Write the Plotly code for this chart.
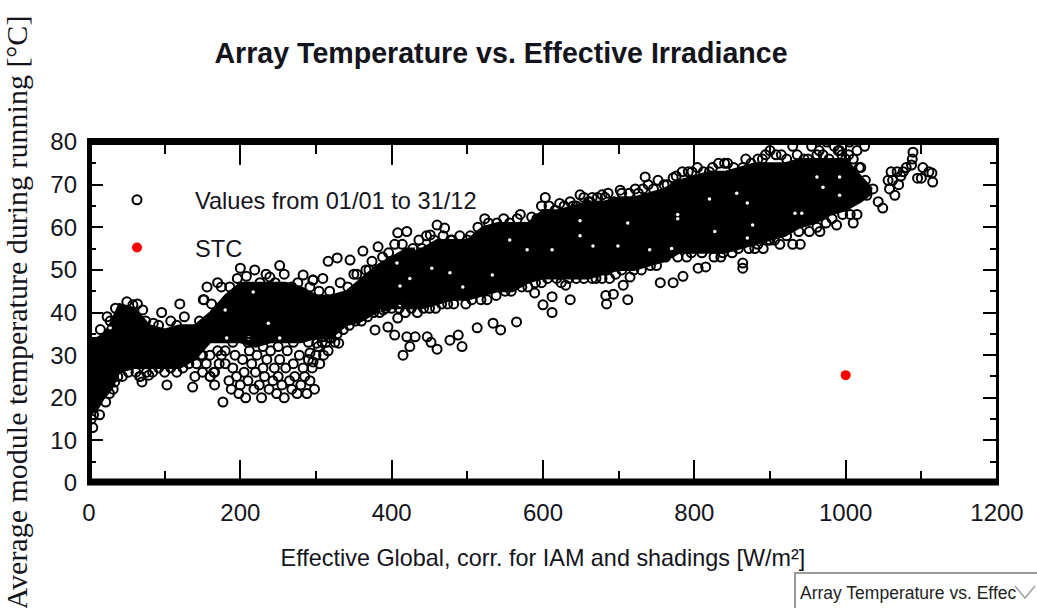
import plotly.graph_objects as go

TITLE = "Array Temperature vs. Effective Irradiance"
X_TITLE = "Effective Global, corr. for IAM and shadings [W/m²]"
Y_TITLE = "Average module temperature during running [°C]"
SERIES_VALUES = "Values from 01/01 to 31/12"
SERIES_STC = "STC"
DROPDOWN = "Array Temperature vs. Effec"

# Solid core of the overplotted cloud: envelope
core_x = [0,10,20,30,40,60,80,100,120,140,160,180,200,220,240,260,280,300,320,340,360,380,400,420,440,460,480,500,520,540,560,580,600,620,640,660,680,700,720,740,760,780,800,820,840,860,880,900,920,940,960,980,1000,1020,1035]
core_hi = [34,34,35,38,42,41,37,36,37,37,40,44,47,47,47,47,46,44,44,45,48,51,53,55,55,57,57,57,60,61,61,61,64,64,65,66,66,67,67,68,69,71,72,73,73,74,75,75,75,76,76,76,76,72,69]
core_lo = [16,17,20,22,26,27,27,27,27,29,33,33,33,32,33,33,33,34,34,37,38,40,41,41,41,42,43,43,44,45,45,47,48,48,48,48,49,50,50,51,52,54,54,54,54,55,56,57,58,60,61,63,64,66,68]

# Individually visible points around the core
pts_x = [5,3,8,12,19,34,24,67,70,79,103,137,133,160,166,166,58,71,96,120,156,170,151,200,219,252,283,296,239,
 175,180,177,185,188,190,193,195,198,200,203,205,207,210,212,215,218,220,222,225,228,230,232,235,238,240,243,245,248,250,252,255,258,260,262,265,268,270,272,275,278,280,283,285,288,290,292,295,298,300,303,305,310,313,316,320,325,180,190,210,230,250,270,290,
 140,150,160,165,172,155,148,130,140,160,170,
 316,328,309,296,345,362,382,408,420,460,470,451,500,523,539,570,585,
 296,292,330,301,309,378,395,404,415,424,420,431,447,460,452,477,493,488,513,534,544,565,408,389,
 612,600,612,589,630,636,683,693,684,712,706,755,772,785,805,815,864,626,649,665,688,715,
 603,622,649,665,678,686,702,722,735,739,772,797,844,864,
 864,891,913,930,940,966,988,1010,1015,1049,1043,1036,1028,
 1065,1058,1062,1070,1073,1056,1060,1068,1076,1087,1089,1088,1080,1100,1102,1114,1115,1095,1110,
 900,915,930,945,955,965,975,985,995,1005,1015,1025,950,970,990,1010,890,875,1020,1000,
 350,370,440,480,545,610,640,660,760,820,880,905,880,900,835,790]
pts_y = [13,15,20,24,23.7,23.7,39,25,23.7,25.3,23,22.5,29.6,25,26,23,41.8,40.6,40,42,46,47,43,50.4,50,51,48.8,47.6,48.3,
 30,28,19,24,22,27,30,25,21,23,29,26,20,24,31,28,22,26,30,23,20,27,25,29,22,31,24,27,21,25,29,23,20,27,31,24,22,28,25,21,30,23,27,25,21,29,24,27,22,30,32,28,30,33,31,34,33,31,33,33,32,32,33,33,
 25,26,25,26,28,28,30,31,31,30,31,
 52,52.8,48,47.6,52.3,54.4,55.4,58.7,59,60.5,59.8,58.2,57,62,61,63,62.4,
 28.4,30.5,32.8,32.8,34.3,35.9,36.6,34.7,30,32,34.3,34.3,34.3,31.4,33,33.5,32,34.7,36.4,37.5,35.9,37.8,38.7,40.6,
 40,41.8,43.7,44.6,46.4,43,44,44.3,42,43,46.4,47,47,48.5,50.4,50.7,51.6,50,50,48,48,48.3,
 67,65.6,67.6,67,67.6,68,68.7,69,71.8,70,71.6,73,75,74,
 50.4,55,56,56,56,59,60.5,61,63,64.5,66,69,67.5,
 67.5,69,71,70,72,71,73,73,73,74.6,77.6,76,74,71.5,74,72.7,70.6,71.5,73,
 78,77,79,76,79,78,80,79,77,80,78,79,76,77,78,76,76,75,74,76,
 49,50,55,57,60,62,65,66,70,73,57,59,55,57,53,53]

# Points along the upper rim of the cloud
rim_hi_x = [15,28,35,50,64,75,85,92,108,116,126,146,152,162,175,186,196,208,226,234,246,258,268,276,292,304,318,332,342,354,366,374,388,396,404,414,428,436,446,456,468,478,490,504,514,528,534,548,556,566,576,592,598,608,616,628,636,644,654,662,672,682,694,704,714,726,732,746,752,764,776,784,792,804,812,824,832,840,852,868,884,894,908,922,936,962,978,992,1004,1018,1026]
rim_hi_y = [36,38,41,42.5,42,38,37.5,37,38,37,39,38,43,42,46,46,48,48.5,47,49,47,49,46,47,46,45,45,47,46,49,50,52,53,54,56,56,55,57,58,57,58,57,58,58,60,61,59,62,61,62,60,62,65,65,64,65,66,65,67,66,67,67,66,68,68,68,69,69,71,70,72,73,73,74,73,74,75,75,74,76,76,77,77,76,77,77,76,78,77,74,71]

# Points along the lower rim of the cloud
rim_lo_x = [6,14,22,27,32,38,44,52,62,68,76,84,92,100,108,116,124,132,142,150,308,318,328,336,344,352,360,368,376,384,392,400,410,418,426,434,442,450,458,466,474,482,498,506,518,526,538,550,558,572,580,590,598,606,618,624,634,644,654,670,678,696,704,720,730,742,750,762,778,796,810,826,838,850,858,872,884,898,906,922,938,952,962,974,982,996,1006]
rim_lo_y = [16,16,19,21,22,25,25,26,26,25,26,26,27,26,27,26,27,28,28,30,33,34,35,36,37,38,38,39,40,40,41,41,41,40,41,40,41,41,41,42,42,42,42,43,43,43,44,45,45,46,46,47,47,48,48,47,48,48,48,48,48,49,50,50,50,51,51,53,53,54,54,53,54,54,55,55,56,57,57,58,59,59,60,61,62,63,63]

# Small openings left inside the solid core
gap_x = [649,649,712,820,778,778,612,666,699,741,770,827,870,856,877,870,992,992,962,970,933,942,453,411,424,407,477,533,579,556,433,387,411,494,556,237,211,252,182,217,180,133,28]
gap_y = [61.5,58,61,66.6,63,62,54.7,55.6,55.6,54.7,55,59,65.7,68,60.5,57.5,71.8,67.5,71.8,69.4,63.3,63.3,50.4,46.2,48,51.6,49.3,48.8,54.7,57,55,40.6,41.8,46,43,37.5,34,34,34,44.8,40.6,38,36.4]

stc_x = [1000]
stc_y = [25.3]

W, H = 1037, 608
L, R, T, B = 89, 40, 142, 125
PW, PH = W - L - R, H - T - B
def px(v): return (v - L) / PW
def py(v): return (T + PH - v) / PH

SANS = "Liberation Sans, Arial, sans-serif"
INK = "#14141c"
ring = dict(symbol="circle-open", color="black", size=9, line=dict(width=2, color="black"))

fig = go.Figure()
fig.add_trace(go.Scatter(x=core_x, y=core_lo, mode="lines", line=dict(color="black", width=2), showlegend=False, hoverinfo="skip"))
fig.add_trace(go.Scatter(x=core_x, y=core_hi, mode="lines", line=dict(color="black", width=2), fill="tonexty", fillcolor="black", showlegend=False, hoverinfo="skip"))
fig.add_trace(go.Scatter(x=gap_x, y=gap_y, mode="markers", marker=dict(color="white", size=3.5), showlegend=False, hoverinfo="skip"))
fig.add_trace(go.Scatter(x=rim_hi_x, y=rim_hi_y, mode="markers", marker=ring, showlegend=False, hoverinfo="skip"))
fig.add_trace(go.Scatter(x=rim_lo_x, y=rim_lo_y, mode="markers", marker=ring, showlegend=False, hoverinfo="skip"))
fig.add_trace(go.Scatter(x=pts_x, y=pts_y, mode="markers", name=SERIES_VALUES, legendgroup="a", marker=ring))
fig.add_trace(go.Scatter(x=stc_x, y=stc_y, mode="markers", name=SERIES_STC, legendgroup="b",
                         marker=dict(symbol="circle", color="#ff0000", size=10)))

axis_common = dict(showgrid=False, zeroline=False, showline=False, ticks="inside", mirror="ticks",
                   tickcolor="black", tickwidth=2, tickfont=dict(family=SANS, size=24, color=INK))
fig.update_xaxes(range=[0, 1200], dtick=200, ticklen=23, ticklabelstandoff=13,
                 minor=dict(dtick=100, ticks="inside", ticklen=12, tickcolor="black", tickwidth=2, showgrid=False),
                 title=dict(text=X_TITLE, font=dict(family=SANS, size=23.4, color=INK), standoff=24), **axis_common)
fig.update_yaxes(range=[0, 80], dtick=10, ticklen=14, ticklabelstandoff=11,
                 minor=dict(dtick=5, ticks="inside", ticklen=7, tickcolor="black", tickwidth=2, showgrid=False),
                 title=dict(text=Y_TITLE, font=dict(family="Liberation Serif, serif", size=30, color=INK), standoff=18), **axis_common)

def frame(x0, y0, x1, y1, w):
    return dict(type="line", xref="paper", yref="paper", x0=x0, y0=y0, x1=x1, y1=y1, line=dict(color="black", width=w))

shapes = [
    frame(px(87), py(141.5), px(999), py(141.5), 7),
    frame(px(87), py(482), px(999), py(482), 7),
    frame(px(89.5), py(138), px(89.5), py(485), 5),
    frame(px(997.5), py(138), px(997.5), py(485), 3),
    dict(type="rect", xref="paper", yref="paper", x0=px(795), y0=py(573), x1=px(1045), y1=py(615),
         line=dict(color="#9a9a9a", width=2), fillcolor="white"),
    dict(type="path", xref="paper", yref="paper",
         path=f"M {px(1015)} {py(586)} L {px(1025)} {py(598)} L {px(1035)} {py(586)}",
         line=dict(color="#a0a0a0", width=1.5)),
]

fig.update_layout(
    width=W, height=H, autosize=False,
    margin=dict(l=L, r=R, t=T, b=B, pad=0),
    paper_bgcolor="white", plot_bgcolor="white",
    title=dict(text=TITLE, x=501 / W, xanchor="center", y=1 - 53 / H, yanchor="middle",
               font=dict(family=SANS, size=28.6, color=INK, weight="bold")),
    legend=dict(x=px(79), y=py(178), xanchor="left", yanchor="top", itemwidth=106, tracegroupgap=14,
                bgcolor="rgba(0,0,0,0)", font=dict(family=SANS, size=23.6, color=INK)),
    shapes=shapes,
    annotations=[dict(text=DROPDOWN, xref="paper", yref="paper", x=px(798), y=py(593), xanchor="left", yanchor="middle",
                      showarrow=False, font=dict(family=SANS, size=17.5, color="#222222"))],
)
fig.write_html("out.html", config=dict(displayModeBar=False),
               post_script="document.body.style.margin='0';document.documentElement.style.overflow='hidden';")
